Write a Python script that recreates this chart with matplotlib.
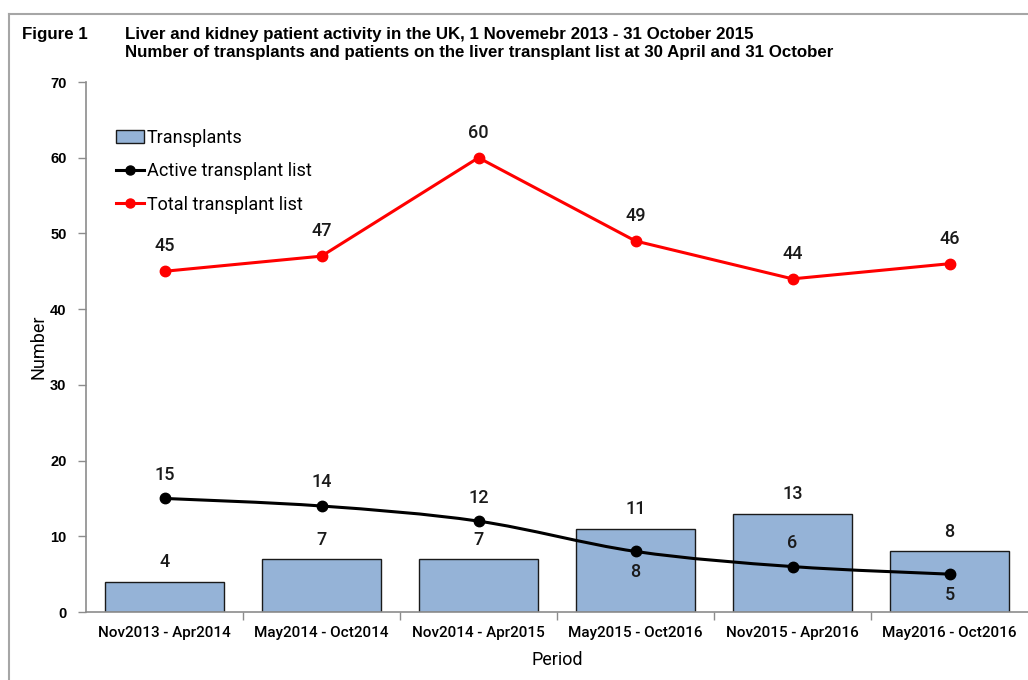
import numpy as np
import matplotlib
matplotlib.use('Agg')
import matplotlib.pyplot as plt
from matplotlib.path import Path
from matplotlib.patches import PathPatch, Patch
from matplotlib.lines import Line2D

periods = ['Nov2013 - Apr2014', 'May2014 - Oct2014', 'Nov2014 - Apr2015',
           'May2015 - Oct2016', 'Nov2015 - Apr2016', 'May2016 - Oct2016']
transplants = [4, 7, 7, 11, 13, 8]
active_list = [15, 14, 12, 8, 6, 5]
total_list = [45, 47, 60, 49, 44, 46]
# label placement for the active list: above (+1) or below (-1) the point
active_side = [1, 1, 1, -1, 1, -1]

LABEL_FONT = ['Roboto', 'DejaVu Sans']
AXIS_FONT = ['Liberation Sans', 'DejaVu Sans']
GREY = '#8c8c8c'


def smooth_path(xs, ys):
    # Catmull-Rom style bezier through the points, like Excel's smoothed line
    verts = [(xs[0], ys[0])]
    codes = [Path.MOVETO]
    n = len(xs)
    for i in range(n - 1):
        x0, y0 = (xs[i - 1], ys[i - 1]) if i > 0 else (xs[i], ys[i])
        x1, y1 = xs[i], ys[i]
        x2, y2 = xs[i + 1], ys[i + 1]
        x3, y3 = (xs[i + 2], ys[i + 2]) if i + 2 < n else (x2, y2)
        c1 = (x1 + (x2 - x0) / 6.0, y1 + (y2 - y0) / 6.0)
        c2 = (x2 - (x3 - x1) / 6.0, y2 - (y3 - y1) / 6.0)
        verts += [c1, c2, (x2, y2)]
        codes += [Path.CURVE4] * 3
    return Path(verts, codes)


fig = plt.figure(figsize=(10.28, 6.8), dpi=100)
ax = fig.add_axes([86 / 1028, 1 - 612 / 680, 942 / 1028, 530 / 680])

x = np.arange(len(periods))
ax.bar(x, transplants, width=0.76, color='#95b3d7', edgecolor='#1a1a1a',
       linewidth=1.0, zorder=2)

ax.add_patch(PathPatch(smooth_path(x, active_list), facecolor='none',
                       edgecolor='black', linewidth=2.2, zorder=3))
ax.plot(x, active_list, 'o', color='black', markersize=7.5, zorder=4)
ax.plot(x, total_list, '-o', color='#ff0000', linewidth=2.2, markersize=7.5,
        zorder=4)

for xi, v in zip(x, transplants):
    ax.annotate(str(v), (xi, v), xytext=(0, 14), textcoords='offset points',
                ha='center', va='center', fontsize=13, family=LABEL_FONT,
                fontweight='medium', color='#1a1a1a')
for xi, v, s in zip(x, active_list, active_side):
    ax.annotate(str(v), (xi, v), xytext=(0, 17 * s if s > 0 else -15),
                textcoords='offset points', ha='center', va='center',
                fontsize=13, family=LABEL_FONT, fontweight='medium',
                color='#1a1a1a')
for xi, v in zip(x, total_list):
    ax.annotate(str(v), (xi, v), xytext=(0, 18), textcoords='offset points',
                ha='center', va='center', fontsize=13, family=LABEL_FONT,
                fontweight='medium', color='#1a1a1a')

ax.set_xlim(-0.5, 5.5)
ax.set_ylim(0, 70)
ax.set_yticks(range(0, 71, 10))
ax.tick_params(axis='y', direction='out', length=6, width=1, color=GREY,
               pad=8, labelsize=10.5)
for lab in ax.get_yticklabels():
    lab.set_family(AXIS_FONT)
    lab.set_fontweight('bold')

ax.set_xticks(np.arange(0.5, 5.5, 1.0))
ax.set_xticklabels([])
ax.set_xticks(x, minor=True)
ax.set_xticklabels(periods, minor=True, fontsize=11, family=LABEL_FONT,
                   fontweight='medium')
ax.tick_params(axis='x', which='major', direction='out', length=6, width=1,
               color=GREY)
ax.tick_params(axis='x', which='minor', length=0, pad=10)

for side in ('top', 'right'):
    ax.spines[side].set_visible(False)
for side in ('left', 'bottom'):
    ax.spines[side].set_color(GREY)
    ax.spines[side].set_linewidth(1.2)

ax.set_xlabel('Period', fontsize=13, family=LABEL_FONT, labelpad=8)
ax.set_ylabel('Number', fontsize=13, family=LABEL_FONT, labelpad=2)

handles = [Patch(facecolor='#95b3d7', edgecolor='#1a1a1a', linewidth=1.0),
           Line2D([], [], color='black', marker='o', linewidth=2.2,
                  markersize=6.5),
           Line2D([], [], color='#ff0000', marker='o', linewidth=2.2,
                  markersize=6.5)]
ax.legend(handles, ['Transplants', 'Active transplant list',
                    'Total transplant list'],
          loc='upper left', bbox_to_anchor=(0.024, 0.925), frameon=False,
          prop={'family': LABEL_FONT, 'size': 13}, handlelength=1.55,
          handletextpad=0.15, labelspacing=0.85, borderaxespad=0)

title_kw = dict(fontsize=12.2, fontweight='bold', family=AXIS_FONT, va='center')
fig.text(22 / 1028, 1 - 35 / 680, 'Figure 1', **title_kw)
fig.text(125 / 1028, 1 - 35 / 680,
         'Liver and kidney patient activity in the UK, 1 Novemebr 2013 - 31 October 2015',
         **title_kw)
fig.text(125 / 1028, 1 - 53 / 680,
         'Number of transplants and patients on the liver transplant list at 30 April and 31 October',
         **title_kw)

# outer frame (top and left edges visible)
fig.add_artist(Line2D([9 / 1028, 1.0], [1 - 14 / 680, 1 - 14 / 680],
                      transform=fig.transFigure, color='#a6a6a6', linewidth=1.5))
fig.add_artist(Line2D([9 / 1028, 9 / 1028], [1 - 14 / 680, 0.0],
                      transform=fig.transFigure, color='#a6a6a6', linewidth=1.5))

fig.savefig('out.png', dpi=100)
